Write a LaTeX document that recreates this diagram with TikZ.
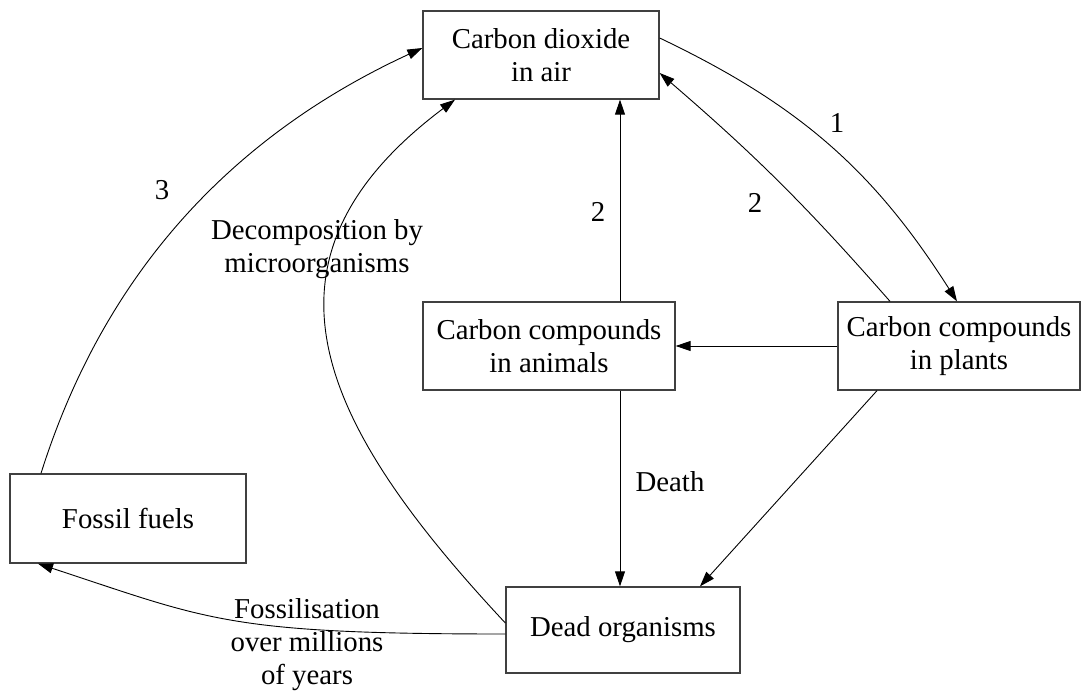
\documentclass[tikz,border=0pt]{standalone}
\usepackage{fontspec}
\setmainfont{Liberation Serif}
\usetikzlibrary{arrows.meta}
\begin{document}
\begin{tikzpicture}[x=1pt,y=-1pt,
  box/.style={draw=black!75, line width=1.3pt, align=center, inner sep=0pt, font=\fontsize{28.8}{33}\selectfont},
  conn/.style={draw=black, line width=0.9pt, -{Triangle[length=15pt,width=10pt]}},
  lbl/.style={align=center, font=\fontsize{28.8}{33}\selectfont, inner sep=0pt}]
\useasboundingbox (0,0) rectangle (1081,692);

\node[box, minimum width=236pt, minimum height=88pt] (co2) at (541,55) {Carbon dioxide\\in air};
\node[box, minimum width=252pt, minimum height=88pt] (animals) at (549,346) {Carbon compounds\\in animals};
\node[box, minimum width=242pt, minimum height=88pt] (plants) at (959,346) {Carbon compounds\\in plants};
\node[box, minimum width=236pt, minimum height=89pt] (fossil) at (128,518.5) {Fossil fuels};
\node[box, minimum width=234pt, minimum height=86pt] (dead) at (623,630) {Dead organisms};

% 1: CO2 -> plants
\draw[conn] ([yshift=17pt]co2.east) to[bend left=16] ([xshift=-2pt]plants.north);
% 2: plants -> CO2
\draw[conn] ([xshift=-69pt]plants.north) to[bend right=4] ([yshift=-18pt]co2.east);
% 2: animals -> CO2
\draw[conn] ([xshift=71pt]animals.north) -- ([xshift=79pt]co2.south);
% plants -> animals
\draw[conn] (plants.west) -- (animals.east);
% death
\draw[conn] ([xshift=71pt]animals.south) -- ([xshift=-3pt]dead.north);
% plants -> dead
\draw[conn] ([xshift=-82pt]plants.south) -- ([xshift=77pt]dead.north);
% decomposition
\draw[conn] ([yshift=7pt]dead.west) .. controls +(-184,-197) and +(-216,162) .. ([xshift=-86pt]co2.south);
% fossilisation
\draw[conn] ([yshift=-4pt]dead.west) .. controls +(-280,0) and +(171,56) .. ([xshift=-90pt]fossil.south);
% 3: fossil -> CO2
\draw[conn] ([xshift=-87pt]fossil.north) .. controls +(66,-209) and +(-182,84) .. ([yshift=7pt]co2.west);

\node[lbl] (l1) at (837,123) {1};
\node[lbl] (l2a) at (755,203) {2};
\node[lbl] (l2b) at (598,212) {2};
\node[lbl] (l3) at (162,190) {3};
\node[lbl] (ldec) at (317,249) {Decomposition by\\microorganisms};
\node[lbl] (ldeath) at (670,482) {Death};
\node[lbl] (lfos) at (307,645) {Fossilisation\\over millions\\of years};
\end{tikzpicture}
\end{document}
